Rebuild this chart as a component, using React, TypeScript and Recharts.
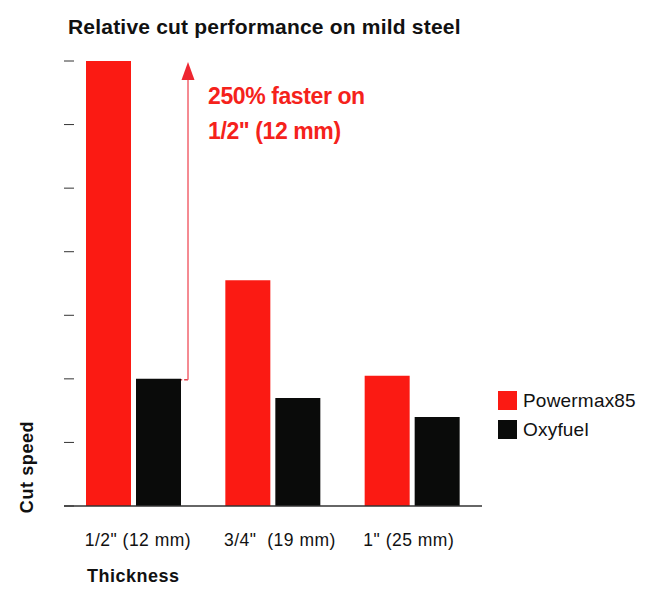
import React from 'react';
import {
  BarChart,
  Bar,
  XAxis,
  YAxis,
  Legend,
  ReferenceArea,
} from 'recharts';

// Relative cut speed
const categories = ['1/2" (12 mm)', '3/4"  (19 mm)', '1" (25 mm)'];
const powermax = [7, 3.55, 2.05];
const oxyfuel = [2, 1.7, 1.4];
const yTicks = [0, 1, 2, 3, 4, 5, 6, 7];
const seriesOrder = ['Powermax85', 'Oxyfuel'];

const RED = '#fb1a13';
const BLACK = '#0a0b0a';
const FONT = '"Liberation Sans", Arial, Helvetica, sans-serif';

const data = categories.map((name, i) => ({
  name,
  powermax: powermax[i],
  oxyfuel: oxyfuel[i],
}));

const XTick = ({ x, y, payload }: any) => (
  <text
    x={x - 49}
    y={y + 32}
    textAnchor="start"
    fontFamily={FONT}
    fontSize={17.5}
    letterSpacing={0.5}
    fill="#111"
    style={{ whiteSpace: 'pre' }}
  >
    {payload.value}
  </text>
);

// no labels on the value axis, only the tick marks
const NoTick = () => <g />;

// dashed line off the oxyfuel bar plus the arrow up to the Powermax bar
const Annotation = (p: any) => {
  const band = p.width / categories.length;
  const x0 = p.x + band * 0.5 + 2.5;
  const ax = p.x + band * 0.89;
  const top = p.y;
  const bottom = p.y + p.height;
  return (
    <g>
      <line x1={x0} y1={bottom + 1} x2={ax} y2={bottom + 1} stroke="#e0404a" strokeWidth={1.5} strokeDasharray="4 2" />
      <line x1={ax} y1={bottom + 1} x2={ax} y2={top + 16} stroke="#f2646e" strokeWidth={1.5} />
      <polygon points={`${ax},${top + 1} ${ax - 6.5},${top + 19} ${ax + 6.5},${top + 19}`} fill="#ee2630" />
      <text x={ax + 20} y={top + 43} fontFamily={FONT} fontSize={23} fontWeight="bold" letterSpacing={-0.4} fill="#f5221b">
        250% faster on
      </text>
      <text x={ax + 20} y={top + 78} fontFamily={FONT} fontSize={23} fontWeight="bold" letterSpacing={-0.4} fill="#f5221b">
        1/2" (12 mm)
      </text>
    </g>
  );
};

const LegendContent = ({ payload }: any) => {
  const items = [...(payload || [])].sort(
    (a: any, b: any) => seriesOrder.indexOf(a.value) - seriesOrder.indexOf(b.value)
  );
  return (
    <div style={{ fontFamily: FONT }}>
      {items.map((entry: any) => (
        <div key={entry.value} style={{ display: 'flex', alignItems: 'center', height: 19, marginBottom: 10 }}>
          <div style={{ width: 19, height: 19, background: entry.color }} />
          <span style={{ marginLeft: 6, fontSize: 19, lineHeight: '19px', letterSpacing: 0.2, color: '#111' }}>
            {entry.value}
          </span>
        </div>
      ))}
    </div>
  );
};

export default function App() {
  return (
    <div style={{ position: 'absolute', left: 0, top: 0, width: 656, height: 600, background: '#fff' }}>
      <BarChart
        width={656}
        height={600}
        data={data}
        margin={{ top: 61, right: 174, bottom: 44, left: 64 }}
        barSize={45}
        barGap={5}
      >
        <XAxis
          dataKey="name"
          height={50}
          axisLine={{ stroke: '#333', strokeWidth: 1.3 }}
          tickLine={false}
          tick={<XTick />}
          interval={0}
        />
        <YAxis
          type="number"
          domain={[0, 7]}
          ticks={yTicks}
          interval={0}
          width={12}
          mirror
          axisLine={false}
          tick={<NoTick />}
          tickSize={10}
          tickLine={{ stroke: '#333', strokeWidth: 1 }}
        />
        <ReferenceArea y1={oxyfuel[0]} y2={powermax[0]} shape={Annotation} />
        <Bar dataKey="powermax" name="Powermax85" fill={RED} isAnimationActive={false} />
        <Bar dataKey="oxyfuel" name="Oxyfuel" fill={BLACK} isAnimationActive={false} />
        <Legend
          layout="vertical"
          align="center"
          verticalAlign="middle"
          content={<LegendContent />}
          wrapperStyle={{ left: 498, top: 391, width: 150, height: 'auto' }}
        />
      </BarChart>
      <svg width={656} height={600} style={{ position: 'absolute', left: 0, top: 0, pointerEvents: 'none' }}>
        <text x={68} y={34} fontFamily={FONT} fontSize={21} fontWeight="bold" letterSpacing={0.2} fill="#111">
          Relative cut performance on mild steel
        </text>
        <text
          transform="translate(33 467) rotate(-90)"
          textAnchor="middle"
          fontFamily={FONT}
          fontSize={18}
          fontWeight="bold"
          letterSpacing={0.6}
          fill="#111"
        >
          Cut speed
        </text>
        <text x={87} y={582} fontFamily={FONT} fontSize={18} fontWeight="bold" letterSpacing={0.5} fill="#111">
          Thickness
        </text>
      </svg>
    </div>
  );
}
